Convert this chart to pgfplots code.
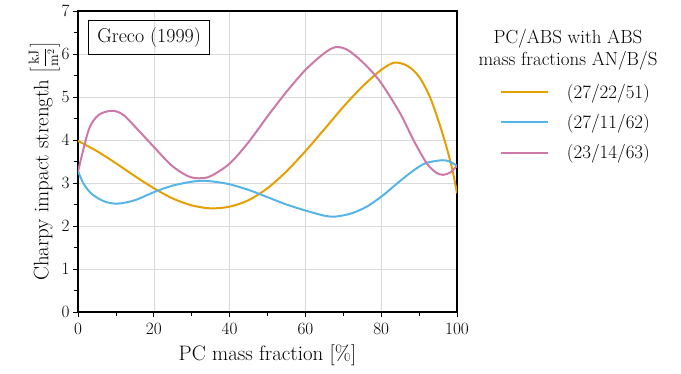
\documentclass[border=0pt]{standalone}
\usepackage{pgfplots}
\pgfplotsset{compat=1.18}
\definecolor{corange}{HTML}{E69F00}
\definecolor{cblue}{HTML}{56B4E9}
\definecolor{cpink}{HTML}{CC79A7}
\begin{document}
\begin{tikzpicture}
\begin{axis}[
  name=ax,
  scale only axis, width=379bp, height=301bp,
  xmin=0, xmax=100, ymin=0, ymax=7,
  xtick={0,20,...,100}, ytick={0,1,...,7},
  minor xtick={10,30,50,70,90},
  minor ytick={0.5,1.5,...,6.5},
  tick align=outside, xtick pos=bottom, ytick pos=left,
  major tick length=5bp, minor tick length=4bp,
  every tick/.style={black, line width=0.8pt},
  grid=major, major grid style={gray!30, line width=0.6pt},
  axis line style={line width=1.1pt},
  ticklabel style={font=\fontsize{16}{18}\selectfont},
  xticklabel style={yshift=-3bp},
  xlabel={PC mass fraction [\%]},
  ylabel={Charpy impact strength {\fontsize{14}{16}\selectfont$\left[\displaystyle\frac{\mathrm{kJ}}{\mathrm{m}^2}\right]$}},
  label style={font=\fontsize{21}{24}\selectfont},
  xlabel style={yshift=-3bp},
  ylabel style={yshift=-5bp},
  legend style={draw=none, at={(rel axis cs:1.105,0.77)}, anchor=north west,
    font=\fontsize{19}{22}\selectfont, row sep=10.5bp, column sep=16bp, fill=none},
  legend cell align=left,
  legend image code/.code={\draw[#1] (0bp,0bp) -- (47bp,0bp);},
  every axis plot/.append style={line width=2pt, smooth, tension=0.5},
  clip=true,
]
\addplot[corange] coordinates {(0,3.98) (5,3.74) (10,3.46) (15,3.16) (20,2.88) (25,2.64) (30,2.48) (35,2.41) (40,2.45) (45,2.6) (50,2.88) (55,3.27) (60,3.74) (65,4.25) (70,4.77) (75,5.24) (80,5.63) (83.5,5.8) (87,5.72) (90,5.47) (93,4.97) (96,4.2) (98.5,3.42) (100,2.76)};
\addlegendentry{(27/22/51)}
\addplot[cblue] coordinates {(0,3.28) (1.5,2.98) (3.7,2.74) (7,2.57) (10.5,2.52) (15,2.6) (20.4,2.8) (25,2.94) (30,3.03) (33,3.05) (36,3.03) (40,2.97) (45,2.84) (50,2.67) (55,2.5) (60,2.36) (65,2.24) (68,2.22) (72,2.29) (76,2.44) (80,2.68) (83,2.9) (86.7,3.17) (90,3.38) (92,3.47) (96,3.53) (98,3.5) (100,3.4)};
\addlegendentry{(27/11/62)}
\addplot[cpink] coordinates {(0,3.26) (2.8,4.23) (5.4,4.58) (9,4.68) (12,4.58) (16,4.22) (20,3.84) (24.8,3.4) (29,3.16) (32,3.11) (35,3.16) (40,3.45) (45,3.95) (50,4.55) (55,5.12) (60,5.63) (65,6.02) (68,6.16) (71,6.1) (75,5.82) (79.7,5.36) (85,4.62) (88.5,4.0) (92,3.46) (94.5,3.24) (96.4,3.19) (98.3,3.25) (100,3.4)};
\addlegendentry{(23/14/63)}
\node[draw, line width=0.9pt, anchor=north west, inner xsep=9bp, inner ysep=7bp, font=\fontsize{20}{23}\selectfont]
  at (rel axis cs:0.026,0.97) {Greco (1999)};
\end{axis}
\node[align=center, font=\fontsize{19}{22}\selectfont, anchor=north, inner sep=0pt]
  at ([xshift=111bp,yshift=-18bp]ax.north east) {PC/ABS with ABS\\mass fractions AN/B/S};
\pgfresetboundingbox
\path (ax.south west) ++(-78bp,-62bp) coordinate (bl);
\path (ax.north east) ++(224bp,11bp) coordinate (tr);
\path[use as bounding box] (bl) rectangle (tr);
\end{tikzpicture}
\end{document}
